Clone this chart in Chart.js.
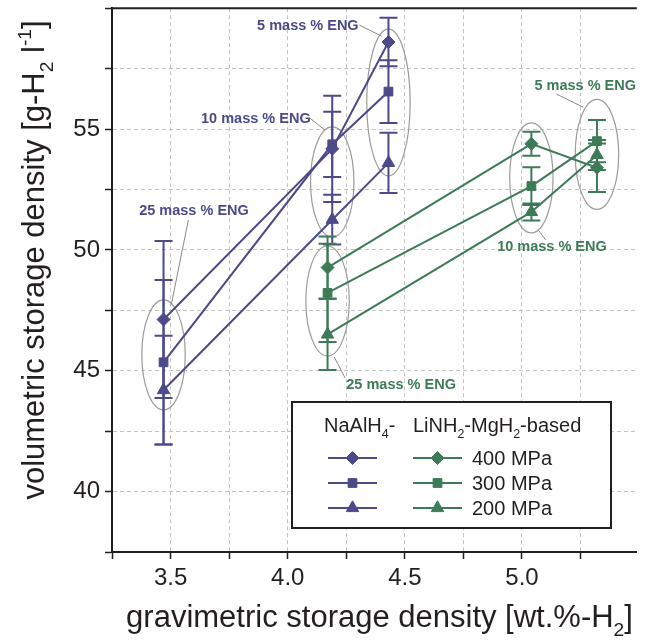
<!DOCTYPE html>
<html>
<head>
<meta charset="utf-8">
<script src="https://cdn.jsdelivr.net/npm/chart.js@4/dist/chart.umd.min.js"></script>
<style>
  html, body { margin: 0; padding: 0; background: #fff; overflow: hidden; }
</style>
</head>
<body>
<canvas id="chart" width="645" height="640"></canvas>
<script>
// NaAlH4-based, x = gravimetric density, y = volumetric density (+/- error)
const naX = [3.47, 4.19, 4.43];
const na400 = [47.12, 54.18, 58.6];
const na400Err = [3.25, 2.2, 1.0];
const na300 = [45.35, 54.37, 56.55];
const na300Err = [3.4, 1.35, 1.3];
const na200 = [44.2, 51.25, 53.6];
const na200Err = [2.25, 1.03, 1.25];

// LiNH2-MgH2-based
const liX = [4.17, 5.04, 5.32];
const li400 = [49.27, 54.39, 53.4];
const li400Err = [1.28, 0.5, 1.0];
const li300 = [48.22, 52.64, 54.5];
const li300Err = [2.03, 0.78, 0.87];
const li200 = [46.5, 51.57, 53.93];
const li200Err = [1.47, 0.35, 0.62];

const pressures = ['400 MPa', '300 MPa', '200 MPa'];
const engLabels = ['25 mass % ENG', '10 mass % ENG', '5 mass % ENG'];
const xTicks = [3.5, 4.0, 4.5, 5.0];
const yTicks = [40, 45, 50, 55];

const BLUE = '#4b4a8b';
const GREEN = '#3d7b57';
const INK = '#231f20';
const FONT = "'Liberation Sans', Arial, sans-serif";
const shapes = ['rectRot', 'rect', 'triangle'];
const radii = [6.5, 6.2, 7.2];

const groups = [
  { xs: naX, color: BLUE, sets: [[na400, na400Err], [na300, na300Err], [na200, na200Err]] },
  { xs: liX, color: GREEN, sets: [[li400, li400Err], [li300, li300Err], [li200, li200Err]] }
];

const datasets = [];
groups.forEach(g => g.sets.forEach((s, k) => {
  datasets.push({
    data: g.xs.map((x, i) => ({ x: x, y: s[0][i] })),
    errs: s[1],
    borderColor: g.color,
    backgroundColor: g.color,
    borderWidth: 2,
    pointStyle: shapes[k],
    pointRadius: radii[k],
    pointBorderWidth: 1,
    showLine: true
  });
}));

// label placement (data coords): text centre, leader start, leader end
const notes = [
  { t: engLabels[2], c: BLUE, at: [4.086, 59.26], from: [4.306, 59.30], to: [4.402, 58.84] },
  { t: engLabels[1], c: BLUE, at: [3.864, 55.41], from: [4.095, 55.45], to: [4.158, 54.96] },
  { t: engLabels[0], c: BLUE, at: [3.600, 51.61], from: [3.576, 51.24], to: [3.503, 47.73] },
  { t: engLabels[2], c: GREEN, at: [5.270, 56.78], from: [5.146, 56.45], to: [5.260, 55.91] },
  { t: engLabels[1], c: GREEN, at: [5.128, 50.10], from: [5.072, 50.79], to: [5.101, 50.41] },
  { t: engLabels[0], c: GREEN, at: [4.484, 44.41], from: [4.198, 45.58], to: [4.245, 44.70] }
];

function richText(ctx, parts, x, y, size) {
  // parts: [text, mode] mode: 0 normal, 1 sub, 2 sup
  let cx = x;
  parts.forEach(([t, m]) => {
    const s = m ? size * 0.62 : size;
    ctx.font = s + 'px ' + FONT;
    const dy = m === 1 ? size * 0.28 : (m === 2 ? -size * 0.42 : 0);
    ctx.fillText(t, cx, y + dy);
    cx += ctx.measureText(t).width;
  });
  return cx - x;
}
function richWidth(ctx, parts, size) {
  let w = 0;
  parts.forEach(([t, m]) => {
    ctx.font = (m ? size * 0.62 : size) + 'px ' + FONT;
    w += ctx.measureText(t).width;
  });
  return w;
}

const decor = {
  id: 'decor',
  beforeDatasetsDraw(chart) {
    const { ctx, scales: { x, y } } = chart;
    ctx.save();
    // ellipses round each ENG group
    ctx.strokeStyle = '#9b9b9b';
    ctx.lineWidth = 1.2;
    groups.forEach(g => g.xs.forEach((xv, i) => {
      const ps = g.sets.map(s => y.getPixelForValue(s[0][i]));
      const lo = Math.min(...ps), hi = Math.max(...ps);
      const cy = (lo + hi) / 2;
      const ry = Math.max(55, (hi - lo) / 2 + 13);
      ctx.beginPath();
      ctx.ellipse(x.getPixelForValue(xv), cy, 21.7, ry, 0, 0, Math.PI * 2);
      ctx.stroke();
    }));
    // error bars
    chart.data.datasets.forEach(ds => {
      ctx.strokeStyle = ds.borderColor;
      ctx.lineWidth = 2;
      ds.data.forEach((p, i) => {
        const px = x.getPixelForValue(p.x);
        const t = y.getPixelForValue(p.y + ds.errs[i]);
        const b = y.getPixelForValue(p.y - ds.errs[i]);
        ctx.beginPath();
        ctx.moveTo(px, t); ctx.lineTo(px, b);
        ctx.moveTo(px - 9, t); ctx.lineTo(px + 9, t);
        ctx.moveTo(px - 9, b); ctx.lineTo(px + 9, b);
        ctx.stroke();
      });
    });
    ctx.restore();
  },
  afterDatasetsDraw(chart) {
    const { ctx, scales: { x, y } } = chart;
    ctx.save();
    notes.forEach(n => {
      ctx.strokeStyle = '#8a8a8a';
      ctx.lineWidth = 1;
      ctx.beginPath();
      ctx.moveTo(x.getPixelForValue(n.from[0]), y.getPixelForValue(n.from[1]));
      ctx.lineTo(x.getPixelForValue(n.to[0]), y.getPixelForValue(n.to[1]));
      ctx.stroke();
      ctx.fillStyle = n.c;
      ctx.font = 'bold 14.5px ' + FONT;
      ctx.textAlign = 'center';
      ctx.textBaseline = 'middle';
      ctx.fillText(n.t, x.getPixelForValue(n.at[0]), y.getPixelForValue(n.at[1]));
    });
    ctx.restore();
  },
  afterDraw(chart) {
    const { ctx, chartArea: a } = chart;
    ctx.save();
    // top frame line
    ctx.strokeStyle = INK;
    ctx.lineWidth = 2;
    ctx.beginPath();
    ctx.moveTo(a.left, a.top); ctx.lineTo(a.right, a.top);
    ctx.stroke();

    // axis titles
    ctx.fillStyle = INK;
    ctx.textAlign = 'left';
    ctx.textBaseline = 'alphabetic';
    const xt = [['gravimetric storage density [wt.%-H', 0], ['2', 1], [']', 0]];
    const xs = 31;
    richText(ctx, xt, 379.5 - richWidth(ctx, xt, xs) / 2, 627, xs);
    const yt = [['volumetric storage density [g-H', 0], ['2', 1], [' l', 0], ['-1', 2], [']', 0]];
    ctx.translate(44, 260);
    ctx.rotate(-Math.PI / 2);
    richText(ctx, yt, -richWidth(ctx, yt, xs) / 2, 0, xs);
    ctx.setTransform(1, 0, 0, 1, 0, 0);

    // legend box
    ctx.lineWidth = 2;
    ctx.strokeStyle = INK;
    ctx.fillStyle = '#fff';
    ctx.fillRect(292, 402, 319, 126);
    ctx.strokeRect(292, 402, 319, 126);
    ctx.fillStyle = INK;
    richText(ctx, [['NaAlH', 0], ['4', 1], ['-', 0]], 324, 432, 20);
    richText(ctx, [['LiNH', 0], ['2', 1], ['-MgH', 0], ['2', 1], ['-based', 0]], 413, 432, 20);
    const rows = [458, 483, 508];
    rows.forEach((ry, k) => {
      [[BLUE, 328, 377], [GREEN, 413, 462]].forEach(([col, x0, x1]) => {
        ctx.strokeStyle = col;
        ctx.fillStyle = col;
        ctx.lineWidth = 2;
        ctx.beginPath();
        ctx.moveTo(x0, ry); ctx.lineTo(x1, ry);
        ctx.stroke();
        ctx.lineWidth = 1;
        Chart.helpers.drawPoint(ctx, { pointStyle: shapes[k], radius: radii[k], rotation: 0, borderWidth: 1 }, (x0 + x1) / 2, ry);
      });
      ctx.fillStyle = INK;
      ctx.font = '20px ' + FONT;
      ctx.textBaseline = 'middle';
      ctx.fillText(pressures[k], 472, ry + 1);
      ctx.textBaseline = 'alphabetic';
    });
    ctx.restore();
  }
};

function noPad(s) {
  s.paddingTop = 0; s.paddingBottom = 0; s.paddingLeft = 0; s.paddingRight = 0;
}

new Chart(document.getElementById('chart'), {
  type: 'scatter',
  data: { datasets: datasets },
  plugins: [decor],
  options: {
    responsive: false,
    animation: false,
    events: [],
    layout: { padding: { top: 7, right: 0, left: 0, bottom: 0 } },
    plugins: { legend: { display: false }, tooltip: { enabled: false } },
    scales: {
      x: {
        type: 'linear',
        min: 3.25,
        max: 5.49,
        afterFit: s => { s.height = 88; noPad(s); },
        border: { color: INK, width: 2, dash: [4, 3] },
        grid: { color: '#c4c4c4', lineWidth: 1, tickColor: INK, tickWidth: 1.5, tickLength: 7 },
        ticks: {
          stepSize: 0.25,
          includeBounds: false,
          autoSkip: false,
          maxRotation: 0,
          padding: 5,
          color: INK,
          font: { family: FONT, size: 24 },
          callback: v => xTicks.some(t => Math.abs(t - v) < 1e-6) ? v.toFixed(1) : ''
        }
      },
      y: {
        type: 'linear',
        min: 37.5,
        max: 60,
        afterFit: s => { s.width = 112; noPad(s); },
        border: { color: INK, width: 2, dash: [4, 3] },
        grid: { color: '#c4c4c4', lineWidth: 1, tickColor: INK, tickWidth: 1.5, tickLength: 7 },
        ticks: {
          stepSize: 2.5,
          autoSkip: false,
          padding: 5,
          color: INK,
          font: { family: FONT, size: 24 },
          callback: v => yTicks.includes(v) ? String(v) : ''
        }
      }
    }
  }
});
</script>
</body>
</html>
